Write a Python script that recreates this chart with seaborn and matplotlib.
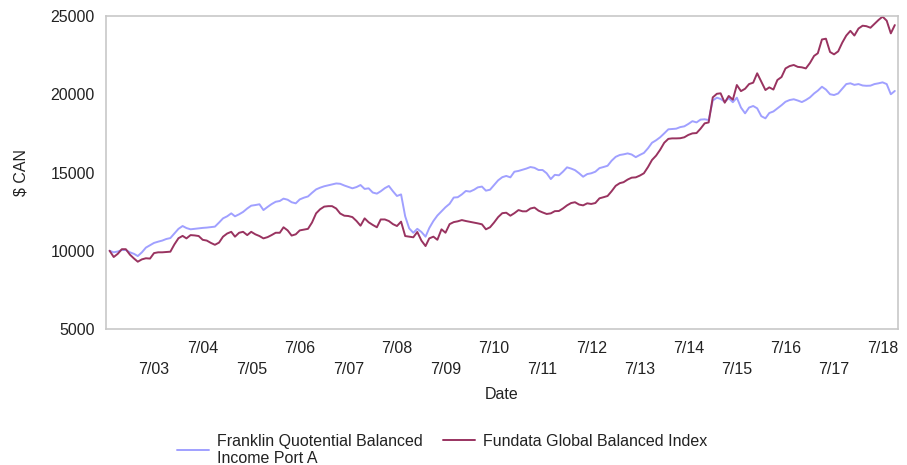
import numpy as np
import pandas as pd
import matplotlib
matplotlib.use('Agg')
import matplotlib.pyplot as plt
import seaborn as sns

# monthly values, Aug 2002 .. Oct 2018
dates = pd.date_range('2002-08-01', periods=195, freq='MS')

franklin = [10000, 9900, 9950, 10050, 10050, 9900, 9800, 9660, 9900, 10200, 10350, 10500,
            10580, 10650, 10750, 10810, 11100, 11400, 11580, 11450, 11370, 11400, 11430, 11460,
            11480, 11510, 11540, 11800, 12070, 12200, 12390, 12200, 12330, 12480, 12700, 12880,
            12920, 12970, 12600, 12800, 12980, 13130, 13180, 13330, 13260, 13100, 13030, 13280,
            13390, 13470, 13700, 13920, 14030, 14120, 14180, 14230, 14300, 14280, 14170, 14080,
            13990, 14070, 14200, 13950, 13990, 13720, 13650, 13800, 14000, 14140, 13800, 13500,
            13600, 12200, 11430, 11150, 11400, 11200, 10900, 11450, 11900, 12250, 12520, 12780,
            13000, 13400, 13420, 13600, 13820, 13780, 13900, 14050, 14100, 13840, 13900, 14200,
            14500, 14700, 14780, 14690, 15050, 15100, 15180, 15250, 15350, 15300, 15160, 15160,
            14950, 14580, 14850, 14820, 15050, 15330, 15250, 15150, 14950, 14730, 14900, 14950,
            15050, 15280, 15350, 15430, 15750, 16000, 16120, 16160, 16220, 16150, 15980, 16120,
            16250, 16550, 16900, 17060, 17250, 17500, 17760, 17780, 17800, 17900, 17950, 18100,
            18280, 18200, 18380, 18400, 18350, 19600, 19780, 19700, 19520, 19750, 19490, 19780,
            19150, 18780, 19150, 19250, 19100, 18600, 18460, 18800, 18900, 19100, 19300, 19520,
            19630, 19680, 19600, 19500, 19630, 19800, 20050, 20230, 20480, 20300, 20000, 19950,
            20050, 20350, 20650, 20700, 20600, 20650, 20560, 20540, 20550, 20650, 20700, 20760,
            20650, 20000, 20210]

fundata = [10000, 9600, 9800, 10100, 10100, 9750, 9500, 9300, 9450, 9520, 9500, 9850,
           9900, 9900, 9920, 9940, 10400, 10800, 10950, 10790, 11000, 10980, 10940, 10700,
           10650, 10500, 10380, 10520, 10900, 11100, 11210, 10900, 11150, 11210, 11000, 11210,
           11050, 10940, 10790, 10870, 11000, 11150, 11150, 11500, 11300, 10970, 11050, 11300,
           11350, 11400, 11800, 12390, 12650, 12820, 12850, 12850, 12700, 12380, 12240, 12220,
           12150, 11900, 11600, 12070, 11820, 11650, 11500, 12000, 12000, 11900, 11700, 11580,
           11860, 10940, 10900, 10860, 11200, 10650, 10300, 10790, 10900, 10700, 11370, 11150,
           11700, 11830, 11880, 11960, 11900, 11850, 11800, 11750, 11690, 11370, 11500, 11800,
           12150, 12400, 12430, 12240, 12400, 12600, 12520, 12520, 12700, 12760, 12560, 12450,
           12350, 12390, 12530, 12540, 12700, 12900, 13050, 13100, 12950, 12900, 13030, 12990,
           13050, 13350, 13420, 13500, 13800, 14150, 14320, 14380, 14550, 14670, 14690, 14800,
           14950, 15350, 15800, 16080, 16450, 16900, 17150, 17180, 17180, 17190, 17250, 17400,
           17500, 17520, 17800, 18140, 18200, 19800, 20030, 20060, 19460, 19890, 19650, 20590,
           20200, 20350, 20650, 20740, 21340, 20810, 20270, 20440, 20300, 20910, 21100, 21650,
           21800, 21870, 21750, 21720, 21650, 22000, 22450, 22620, 23500, 23550, 22700, 22550,
           22740, 23300, 23750, 24050, 23750, 24200, 24380, 24350, 24250, 24500, 24750, 24960,
           24700, 23890, 24420]

series_names = ['Franklin Quotential Balanced\nIncome Port A', 'Fundata Global Balanced Index']
series_colors = ['#a0a0ff', '#993360']
yticks = [5000, 10000, 15000, 20000, 25000]

df = pd.concat([
    pd.DataFrame({'Date': dates, 'value': franklin, 'series': series_names[0]}),
    pd.DataFrame({'Date': dates, 'value': fundata, 'series': series_names[1]}),
])

sns.set_style('white')
plt.rcParams['font.family'] = ['Liberation Sans', 'DejaVu Sans']
plt.rcParams['font.size'] = 11.5

fig = plt.figure(figsize=(9.07, 4.65), dpi=100)
ax = fig.add_axes([106 / 907, 1 - 329 / 465, (898 - 106) / 907, (329 - 16) / 465])

sns.lineplot(data=df, x='Date', y='value', hue='series', palette=series_colors,
             linewidth=1.4, ax=ax, legend=True)

ax.set_ylim(5000, 25000)
ax.set_yticks(yticks)
ax.set_yticklabels([str(v) for v in yticks])
ax.set_xlim(pd.Timestamp('2002-07-05'), pd.Timestamp('2018-10-25'))

# July ticks, odd years pushed down to a second row
tick_dates = pd.date_range('2003-07-01', '2018-07-01', freq='12MS')
ax.set_xticks(tick_dates)
labels = []
for d in tick_dates:
    lab = '7/' + d.strftime('%y')
    if d.year % 2 == 1:
        lab = '\n' + lab
    labels.append(lab)
ax.set_xticklabels(labels, linespacing=1.5)
ax.tick_params(axis='x', length=0, pad=8.5, colors='#222222')
ax.tick_params(axis='y', length=0, pad=8, colors='#222222')

for s in ax.spines.values():
    s.set_color('#c8c8c8')
    s.set_linewidth(1.2)

ax.set_xlabel('Date', labelpad=7, color='#222222')
ax.set_ylabel('$ CAN', labelpad=16, color='#222222')

handles, labs = ax.get_legend_handles_labels()
ax.get_legend().remove()
# two separate boxes so the single-line entry sits on the first text line
fig.legend(handles[:1], labs[:1], loc='center left', bbox_to_anchor=(177 / 907, 1 - 450 / 465),
           frameon=False, borderpad=0, borderaxespad=0, handlelength=2.0, handletextpad=0.5,
           labelcolor='#222222')
fig.legend(handles[1:], labs[1:], loc='center left', bbox_to_anchor=(443 / 907, 1 - 441 / 465),
           frameon=False, borderpad=0, borderaxespad=0, handlelength=2.0, handletextpad=0.5,
           labelcolor='#222222')

fig.savefig('out.png', dpi=100)
